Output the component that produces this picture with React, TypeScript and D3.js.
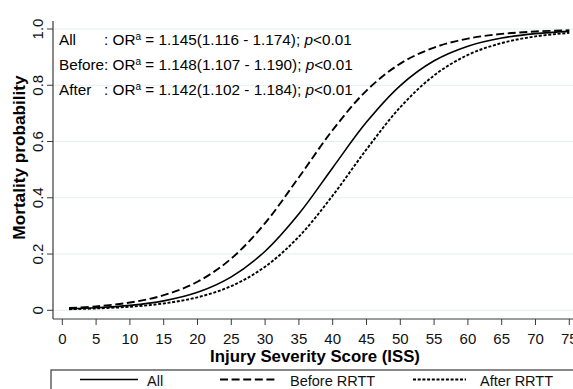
import React from "react";
import * as d3 from "d3";

const iss = [1, 5, 10, 15, 20, 25, 30, 35, 40, 45, 50, 55, 60, 65, 70, 75];
const allP = [0.0052, 0.0089, 0.0174, 0.0336, 0.064, 0.119, 0.21, 0.343, 0.507, 0.669, 0.799, 0.887, 0.939, 0.968, 0.9835, 0.9916];
const beforeP = [0.0081, 0.0141, 0.0276, 0.0537, 0.1015, 0.184, 0.31, 0.473, 0.641, 0.781, 0.877, 0.934, 0.966, 0.9825, 0.9912, 0.9955];
const afterP = [0.0039, 0.0066, 0.0127, 0.0243, 0.0462, 0.086, 0.155, 0.262, 0.408, 0.572, 0.722, 0.835, 0.908, 0.95, 0.9737, 0.9863];
const xTicks = [0, 5, 10, 15, 20, 25, 30, 35, 40, 45, 50, 55, 60, 65, 70, 75];
const yTicks = [0, 0.2, 0.4, 0.6, 0.8, 1.0];
const yTickLabels = ["0", "0.2", "0.4", "0.6", "0.8", "1.0"];
const groups = ["All", "Before", "After"];
const orText = [
  { or: "1.145", ci: "1.116 - 1.174" },
  { or: "1.148", ci: "1.107 - 1.190" },
  { or: "1.142", ci: "1.102 - 1.184" },
];
const legendLabels = ["All", "Before RRTT", "After RRTT"];

const W = 573;
const H = 389;
const FONT = "'Liberation Sans', Arial, Helvetica, sans-serif";

export default function App() {
  const x = d3.scaleLinear().domain([0, 75]).range([62.3, 569.3]);
  const y = d3.scaleLinear().domain([0, 1]).range([310.3, 29]);
  const line = d3
    .line<[number, number]>()
    .x((d) => x(d[0]))
    .y((d) => y(d[1]))
    .curve(d3.curveCatmullRom.alpha(0.5));
  const series = [
    { vals: allP, dash: undefined, sw: 1.6 },
    { vals: beforeP, dash: "8,3.6", sw: 1.9 },
    { vals: afterP, dash: "3,1.7", sw: 1.9 },
  ];
  const axisColor = "#3a3a3a";
  const legendX = [
    { x1: 80, x2: 138, tx: 147 },
    { x1: 220, x2: 278, tx: 290 },
    { x1: 413, x2: 466, tx: 480 },
  ];
  return (
    <svg
      width={W}
      height={H}
      style={{ position: "absolute", left: 0, top: 0, background: "#fff" }}
      fontFamily={FONT}
    >
      <rect x={0} y={0} width={W} height={H} fill="#fff" />
      {yTicks.map((t) => (
        <line key={"g" + t} x1={53} x2={W} y1={y(t)} y2={y(t)} stroke="#e6eef0" strokeWidth={1} />
      ))}
      {series.map((s, i) => (
        <path
          key={groups[i]}
          d={line(iss.map((v, j) => [v, s.vals[j]] as [number, number])) || ""}
          fill="none"
          stroke="#000"
          strokeWidth={s.sw}
          strokeDasharray={s.dash}
        />
      ))}
      <line x1={53} x2={53} y1={21} y2={319} stroke={axisColor} strokeWidth={1.2} />
      <line x1={53} x2={W} y1={319} y2={319} stroke={axisColor} strokeWidth={1.2} />
      {yTicks.map((t, i) => (
        <g key={"yt" + t}>
          <line x1={47} x2={53} y1={y(t)} y2={y(t)} stroke={axisColor} strokeWidth={1} />
          <text
            transform={`translate(43,${y(t)}) rotate(-90)`}
            textAnchor="middle"
            fontSize={15}
            fill="#111"
          >
            {yTickLabels[i]}
          </text>
        </g>
      ))}
      {xTicks.map((t) => (
        <g key={"xt" + t}>
          <line x1={x(t)} x2={x(t)} y1={319} y2={325} stroke={axisColor} strokeWidth={1} />
          <text x={x(t)} y={344} textAnchor="middle" fontSize={15} fill="#111">
            {t}
          </text>
        </g>
      ))}
      <text x={315} y={362} textAnchor="middle" fontSize={16.8} fontWeight="bold" fill="#000">
        Injury Severity Score (ISS)
      </text>
      <text
        transform="translate(25,157.5) rotate(-90)"
        textAnchor="middle"
        fontSize={17.2}
        fontWeight="bold"
        fill="#000"
      >
        Mortality probability
      </text>
      {orText.map((o, i) => {
        const by = 45 + i * 25;
        const prefix = groups[i] === "Before" ? "Before: " : ": ";
        const px = groups[i] === "Before" ? 59 : 104;
        return (
          <text key={"a" + i} y={by} fontSize={15.3} fill="#000">
            {groups[i] !== "Before" && <tspan x={59}>{groups[i]}</tspan>}
            <tspan x={px}>{prefix}OR</tspan>
            <tspan fontSize={10} dy={-5}>a</tspan>
            <tspan dy={5}>{` = ${o.or}(${o.ci}); `}</tspan>
            <tspan fontStyle="italic">p</tspan>
            <tspan>{"<0.01"}</tspan>
          </text>
        );
      })}
      <rect x={51} y={370} width={560} height={40} fill="#fff" stroke={axisColor} strokeWidth={1.2} />
      {legendX.map((l, i) => (
        <g key={"lg" + i}>
          <line
            x1={l.x1}
            x2={l.x2}
            y1={379.5}
            y2={379.5}
            stroke="#000"
            strokeWidth={series[i].sw}
            strokeDasharray={series[i].dash}
          />
          <text x={l.tx} y={386} fontSize={14.5} fill="#111">
            {legendLabels[i]}
          </text>
        </g>
      ))}
    </svg>
  );
}
